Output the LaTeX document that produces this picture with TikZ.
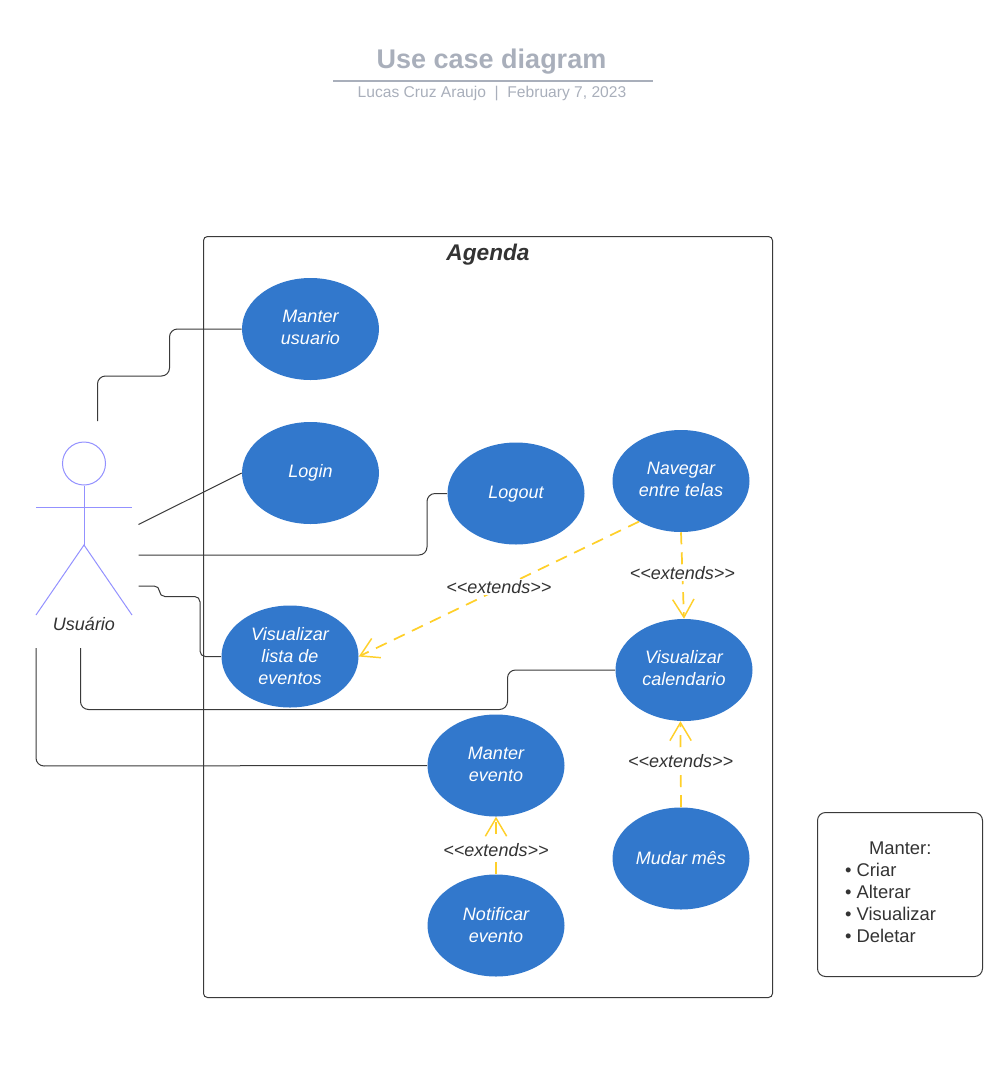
\documentclass[tikz,border=0pt]{standalone}
\usepackage{fontspec}
\setmainfont{Liberation Sans}
\usetikzlibrary{arrows.meta,shapes.geometric}
\definecolor{usecase}{HTML}{3278CC}
\definecolor{titlegray}{HTML}{A9AFBB}
\definecolor{linegray}{HTML}{3A3A3A}
\definecolor{extyellow}{HTML}{FFD02A}
\definecolor{actorblue}{HTML}{9391FF}
\definecolor{textgray}{HTML}{333333}
\tikzset{
  usecasenode/.style={ellipse, fill=usecase, text=white, align=center, inner sep=0pt,
    minimum width=102.75pt, minimum height=76.5pt,
    font=\fontsize{13.5}{16.5}\selectfont\itshape},
  assoc/.style={draw=linegray, line width=.75pt, rounded corners=6pt},
  extends/.style={draw=extyellow, line width=1.3pt, dash pattern=on 9pt off 6pt,
    arrows={-{Straight Barb[length=13.5pt, width=16pt, line width=1.1pt]}}},
  extlabel/.style={fill=white, text=textgray, inner xsep=0pt, inner ysep=1pt,
    font=\fontsize{13.5}{16.5}\selectfont\itshape},
  actorline/.style={draw=actorblue, line width=.75pt},
}
\begin{document}
\begin{tikzpicture}[x=.75pt, y=-.75pt]
\useasboundingbox (0,0) rectangle (1000,1079);
%title
\node[text=titlegray, font=\fontsize{20.25}{24}\selectfont\bfseries] at (491.5,62) (title) {Use case diagram};
\coordinate (ruleleft) at (333,81);
\coordinate (ruleright) at (653,81);
\draw[titlegray, line width=1.5pt] (ruleleft) -- (ruleright);
\node[text=titlegray, font=\fontsize{11.7}{14}\selectfont] at (492,93.5) (subtitle) {Lucas Cruz Araujo \ | \ February 7, 2023};
%system boundary
\node[draw=linegray, line width=.75pt, rounded corners=3pt, minimum width=426.75pt, minimum height=570.75pt, inner sep=0pt] at (488,617) (agenda) {};
\node[text=textgray, font=\fontsize{17}{20}\selectfont\bfseries\itshape] at (488,254.5) (agendatitle) {Agenda};
%actor
\node[draw=actorblue, line width=.75pt, circle, minimum size=32.25pt, inner sep=0pt] at (84,463.5) (head) {};
\coordinate (hip) at (84,545);
\coordinate (armleft) at (36,507);
\coordinate (armright) at (132,507);
\coordinate (footleft) at (36,615);
\coordinate (footright) at (132,615);
\draw[actorline] (head) -- (hip);
\draw[actorline] (armleft) -- (armright);
\draw[actorline] (footleft) -- (hip) -- (footright);
\node[text=textgray, font=\fontsize{13.5}{16.5}\selectfont\itshape] at (84,624) (usuario) {Usuário};
%use cases
\node[usecasenode, text depth=3pt] at (310.5,329) (manterusuario) {Manter\\usuario};
\node[usecasenode] at (310.5,473) (login) {Login};
\node[usecasenode, text depth=1.5pt] at (516,493.5) (logout) {Logout};
\node[usecasenode, text depth=3pt] at (681,481) (navegar) {Navegar\\entre telas};
\node[usecasenode] at (290,656.5) (lista) {Visualizar\\lista de\\eventos};
\node[usecasenode, text depth=3pt] at (684,670) (calendario) {Visualizar\\calendario};
\node[usecasenode, text depth=1.5pt] at (496,765.5) (manterevento) {Manter\\evento};
\node[usecasenode, text depth=1.5pt] at (496,925.5) (notificar) {Notificar\\evento};
\node[usecasenode, text depth=1.5pt] at (681,858.5) (mudar) {Mudar mês};
%free ends by the actor
\coordinate (a1) at (97.5,421);
\coordinate (a2) at (138.5,524.5);
\coordinate (a3) at (138.5,555);
\coordinate (a4) at (138.5,586);
\coordinate (a5) at (80.5,648);
\coordinate (a6) at (36,648);
\draw[assoc] (a1) -- (97.5,376) -- (169.5,376) -- (169.5,329) -- (manterusuario.west);
\draw[assoc] (a2) -- (login.west);
\draw[assoc] (a3) -- (427,555) -- (427,493.5) -- (logout.west);
\draw[assoc, rounded corners=4pt] (a4) -- (159.5,586) -- (159.5,596.5) -- (200,596.5) -- (200,656.5) -- (lista.west);
\draw[assoc] (a5) -- (80.5,709.5) -- (507.5,709.5) -- (507.5,670) -- (calendario.west);
\draw[assoc] (a6) -- (36,766) -- (manterevento.west);
%extends
\draw[extends] (navegar.224) -- node[extlabel, pos=.5, yshift=1.5pt] (ext1) {<{}<extends>{}>} (lista.east);
\draw[extends] (navegar.south) -- node[extlabel, pos=.47] (ext2) {<{}<extends>{}>} (calendario.north);
\draw[extends] (mudar.north) -- node[extlabel, pos=.54] (ext3) {<{}<extends>{}>} (calendario.266.6);
\draw[extends] (notificar.north) -- node[extlabel, pos=.45, yshift=-1.5pt] (ext4) {<{}<extends>{}>} (manterevento.south);
%note
\node[draw=linegray, line width=.75pt, rounded corners=6pt, minimum width=123.75pt, minimum height=123pt, inner sep=0pt] at (900,894.5) (note) {};
\node[text=textgray, align=left, inner sep=0pt, font=\fontsize{13.8}{16.5}\selectfont] at (890.5,892.5) (notetext) {\hspace{18pt}Manter:\\• Criar\\• Alterar\\• Visualizar\\• Deletar};
\end{tikzpicture}
\end{document}
